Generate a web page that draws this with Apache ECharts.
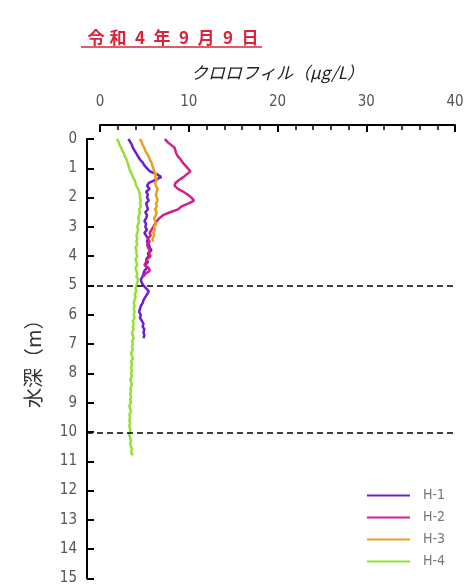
<!DOCTYPE html>
<html>
<head>
<meta charset="utf-8">
<script src="https://cdn.jsdelivr.net/npm/echarts@6/dist/echarts.min.js"></script>
<style>
html,body{margin:0;padding:0;background:#fff;}
#chart{width:469px;height:586px;}
</style>
</head>
<body>
<div id="chart"></div>
<script>
// ---- data ----
const titleText = '令和4年9月9日';
const xAxisName = 'クロロフィル（μg/L）';
const yAxisName = '水深（m）';
const seriesNames = ['H-1', 'H-2', 'H-3', 'H-4'];
const xTicks = [0, 10, 20, 30, 40];
const yTicks = [0,1,2,3,4,5,6,7,8,9,10,11,12,13,14,15];
const refDepths = [5, 10];
const depthStep = 0.1; // sampling interval of the profiles (m), starting at 0 m

// chlorophyll (µg/L) at 0.0, 0.1, 0.2 ... m
const h1 = [3.2,3.4,3.6,3.7,3.9,4.1,4.3,4.5,4.8,5.0,
            5.3,5.6,6.4,6.9,6.2,5.5,5.3,5.6,5.2,5.4,
            5.3,5.5,5.2,5.3,5.4,5.1,5.3,5.2,5.0,5.2,
            5.1,5.3,5.0,5.2,5.4,5.3,5.5,5.6,5.8,5.4,
            5.5,5.2,5.4,5.1,5.3,5.0,4.9,4.8,4.6,4.7,
            4.9,5.2,5.5,5.3,5.1,4.9,4.8,4.6,4.5,4.4,
            4.6,4.5,4.7,4.9,4.8,5.0,4.9,5.0,4.9];
const h2 = [7.3,7.6,8.0,8.4,8.5,8.6,8.8,9.1,9.3,9.6,
            9.9,10.2,9.8,9.4,8.9,8.5,8.4,8.8,9.4,9.9,
            10.3,10.6,10.0,9.2,8.8,7.9,7.1,6.7,6.4,6.2,
            6.0,5.8,5.6,5.7,5.4,5.6,5.3,5.4,5.6,5.5,
            5.7,5.3,5.2,5.0,5.5,5.6,5.1,4.9];
const h3 = [4.5,4.7,4.8,5.0,5.1,5.3,5.5,5.6,5.8,5.9,
            6.0,6.1,6.3,6.2,6.4,6.2,6.3,6.5,6.4,6.3,
            6.4,6.5,6.3,6.4,6.2,6.4,6.3,6.1,6.2,6.3,
            6.1,6.2,6.0,6.1,5.9,6.0];
const h4 = [1.9,2.1,2.2,2.4,2.5,2.7,2.8,3.0,3.1,3.2,
            3.3,3.4,3.6,3.7,3.9,4.0,4.1,4.3,4.4,4.5,
            4.5,4.6,4.5,4.6,4.4,4.5,4.4,4.3,4.4,4.3,
            4.2,4.3,4.2,4.1,4.2,4.1,4.2,4.0,4.1,4.1,
            4.2,4.0,4.1,4.2,4.0,4.1,4.2,4.1,4.3,4.2,
            4.1,4.0,4.1,3.9,4.0,3.9,3.8,3.9,3.8,3.9,
            3.8,3.9,3.7,3.8,3.7,3.8,3.6,3.7,3.8,3.6,
            3.7,3.6,3.7,3.5,3.6,3.7,3.5,3.6,3.5,3.6,
            3.5,3.6,3.4,3.5,3.6,3.4,3.5,3.4,3.5,3.4,
            3.5,3.3,3.4,3.5,3.3,3.4,3.3,3.4,3.3,3.4,
            3.4,3.3,3.4,3.5,3.4,3.5,3.6,3.5,3.7];
const seriesValues = [h1, h2, h3, h4];
const seriesColors = ['#6a1fd0', '#d0208a', '#e8a020', '#96e035'];

// ---- chart ----
const narrow = "'Liberation Sans Narrow','DejaVu Sans Condensed','Liberation Sans',sans-serif";
const jp = "'Noto Sans CJK JP',sans-serif";

function toPairs(vals) {
  return vals.map((v, i) => [v, Math.round(i * depthStep * 10) / 10]);
}

const titleRich = titleText.split('').map(c => '{c|' + c + '}').join('');

const chart = echarts.init(document.getElementById('chart'), null, {renderer: 'canvas'});
chart.setOption({
  animation: false,
  backgroundColor: '#ffffff',
  title: {
    text: titleRich,
    left: 80, top: 24,
    textStyle: {
      rich: {
        c: {width: 22, align: 'center', fontSize: 17, fontWeight: 'bold', color: '#d9243a', fontFamily: jp}
      }
    }
  },
  graphic: [{
    type: 'line', shape: {x1: 81, y1: 47, x2: 262, y2: 47},
    style: {stroke: '#d9243a', lineWidth: 1.5}
  }],
  legend: {
    data: seriesNames.map(n => ({name: n, icon: 'rect'})),
    orient: 'vertical',
    left: 362, top: 483,
    itemWidth: 43, itemHeight: 2, itemGap: 7,
    textStyle: {color: '#777', fontSize: 14, lineHeight: 15, fontFamily: narrow, padding: [0, 0, 0, 8]}
  },
  grid: [
    {left: 100, top: 139, width: 355, height: 441},
    {left: 87, top: 139, width: 370, height: 441}
  ],
  xAxis: [{
    gridIndex: 0, type: 'value', position: 'top', offset: 14,
    min: xTicks[0], max: xTicks[xTicks.length - 1], interval: 10,
    name: xAxisName, nameLocation: 'middle', nameGap: 44,
    nameTextStyle: {fontSize: 17, color: '#222', fontFamily: jp, fontStyle: 'italic'},
    axisLine: {show: true, onZero: false, lineStyle: {color: '#000', width: 2}},
    axisTick: {show: true, inside: true, length: 7, lineStyle: {color: '#000', width: 2}},
    minorTick: {show: true, splitNumber: 5, length: 5, lineStyle: {color: '#000', width: 1.5}},
    axisLabel: {margin: 15, fontSize: 15, color: '#555', fontFamily: narrow},
    splitLine: {show: false}
  }, {
    gridIndex: 1, type: 'value', min: 0, max: 1, show: false
  }],
  yAxis: [{
    gridIndex: 0, type: 'value', inverse: true, position: 'left', offset: 13,
    min: yTicks[0], max: yTicks[yTicks.length - 1], interval: 1,
    name: yAxisName, nameLocation: 'middle', nameGap: 44,
    nameTextStyle: {fontSize: 20, color: '#333', fontFamily: jp},
    axisLine: {show: true, onZero: false, lineStyle: {color: '#000', width: 2}},
    axisTick: {show: true, inside: true, length: 7, lineStyle: {color: '#000', width: 2}},
    axisLabel: {margin: 10, fontSize: 15, color: '#555', fontFamily: narrow},
    splitLine: {show: false}
  }, {
    gridIndex: 1, type: 'value', inverse: true, min: 0, max: 15, show: false
  }],
  series: seriesNames.map((name, i) => ({
    name: name, type: 'line', xAxisIndex: 0, yAxisIndex: 0,
    data: toPairs(seriesValues[i]),
    symbol: 'none', showSymbol: false,
    lineStyle: {color: seriesColors[i], width: 2.5},
    itemStyle: {color: seriesColors[i]},
    z: 3
  })).concat([{
    name: 'ref', type: 'line', xAxisIndex: 1, yAxisIndex: 1, data: [],
    silent: true,
    markLine: {
      silent: true, symbol: 'none', animation: false,
      label: {show: false},
      lineStyle: {color: '#000', width: 1.5, type: [6, 4]},
      data: refDepths.map(d => ({yAxis: d}))
    }
  }])
});
</script>
</body>
</html>
